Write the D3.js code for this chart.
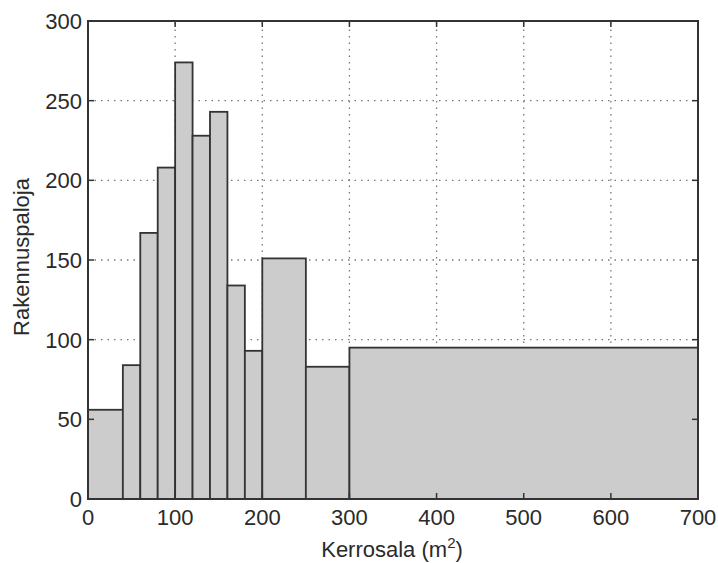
<!DOCTYPE html>
<html>
<head>
<meta charset="utf-8">
<script src="https://cdn.jsdelivr.net/npm/d3@7"></script>
<style>
  html, body { margin: 0; padding: 0; background: #fff; }
  svg { display: block; }
  text { font-family: "Liberation Sans", Arial, sans-serif; fill: #2a2a2a; }
</style>
</head>
<body>
<svg id="chart" width="718" height="563"></svg>
<script>
// Histogram of building fires by floor area (bin edges in m²)
const binStart = [0, 40, 60, 80, 100, 120, 140, 160, 180, 200, 250, 300];
const binEnd   = [40, 60, 80, 100, 120, 140, 160, 180, 200, 250, 300, 700];
const counts   = [56, 84, 167, 208, 274, 228, 243, 134, 93, 151, 83, 95];
const xTicks   = [0, 100, 200, 300, 400, 500, 600, 700];
const yTicks   = [0, 50, 100, 150, 200, 250, 300];
const xLabel = "Kerrosala (m";
const yLabel = "Rakennuspaloja";

const svg = d3.select("#chart");
const m = { left: 88, top: 21, right: 20, bottom: 64 };
const W = 718, H = 563;
const x = d3.scaleLinear().domain([0, 700]).range([m.left, W - m.right]);
const y = d3.scaleLinear().domain([0, 300]).range([H - m.bottom, m.top]);
const [x0, x1] = x.range();
const [y0, y1] = y.range();

const lineCol = "#333";

// dotted grid, drawn beneath the bars
const grid = svg.append("g").attr("stroke", "#777").attr("stroke-width", 1.3)
  .attr("stroke-dasharray", "1.5,5");
grid.selectAll("line.gx").data(xTicks.slice(1, -1)).join("line")
  .attr("x1", d => x(d)).attr("x2", d => x(d)).attr("y1", y0).attr("y2", y1);
grid.selectAll("line.gy").data(yTicks.slice(1, -1)).join("line")
  .attr("y1", d => y(d)).attr("y2", d => y(d)).attr("x1", x0).attr("x2", x1);

// bars
const bins = counts.map((c, i) => ({ a: binStart[i], b: binEnd[i], c }));
svg.append("g").selectAll("rect").data(bins).join("rect")
  .attr("x", d => x(d.a)).attr("width", d => x(d.b) - x(d.a))
  .attr("y", d => y(d.c)).attr("height", d => y(0) - y(d.c))
  .attr("fill", "#cccccc").attr("stroke", lineCol).attr("stroke-width", 1.8);

// box with inward ticks on all four sides
const tl = 6;
const ax = svg.append("g").attr("stroke", lineCol).attr("stroke-width", 1.5);
xTicks.forEach(t => {
  ax.append("line").attr("x1", x(t)).attr("x2", x(t)).attr("y1", y0).attr("y2", y0 - tl);
  ax.append("line").attr("x1", x(t)).attr("x2", x(t)).attr("y1", y1).attr("y2", y1 + tl);
});
yTicks.forEach(t => {
  ax.append("line").attr("y1", y(t)).attr("y2", y(t)).attr("x1", x0).attr("x2", x0 + tl);
  ax.append("line").attr("y1", y(t)).attr("y2", y(t)).attr("x1", x1).attr("x2", x1 - tl);
});
svg.append("rect").attr("x", x0).attr("y", y1).attr("width", x1 - x0).attr("height", y0 - y1)
  .attr("fill", "none").attr("stroke", lineCol).attr("stroke-width", 2);

// tick labels
const fs = 22;
svg.append("g").selectAll("text").data(xTicks).join("text")
  .attr("x", d => x(d)).attr("y", y0 + 26).attr("text-anchor", "middle")
  .attr("font-size", fs).text(d => d);
svg.append("g").selectAll("text").data(yTicks).join("text")
  .attr("x", x0 - 6).attr("y", d => y(d) + 8).attr("text-anchor", "end")
  .attr("font-size", fs).text(d => d);

// axis titles
const xt = svg.append("text").attr("x", 392).attr("y", 557)
  .attr("text-anchor", "middle").attr("font-size", fs);
xt.append("tspan").text(xLabel);
xt.append("tspan").attr("font-size", 15).attr("dy", -9).text("2");
xt.append("tspan").attr("dy", 9).text(")");

svg.append("text")
  .attr("transform", "translate(29,257) rotate(-90)")
  .attr("text-anchor", "middle").attr("font-size", fs).text(yLabel);
</script>
</body>
</html>
